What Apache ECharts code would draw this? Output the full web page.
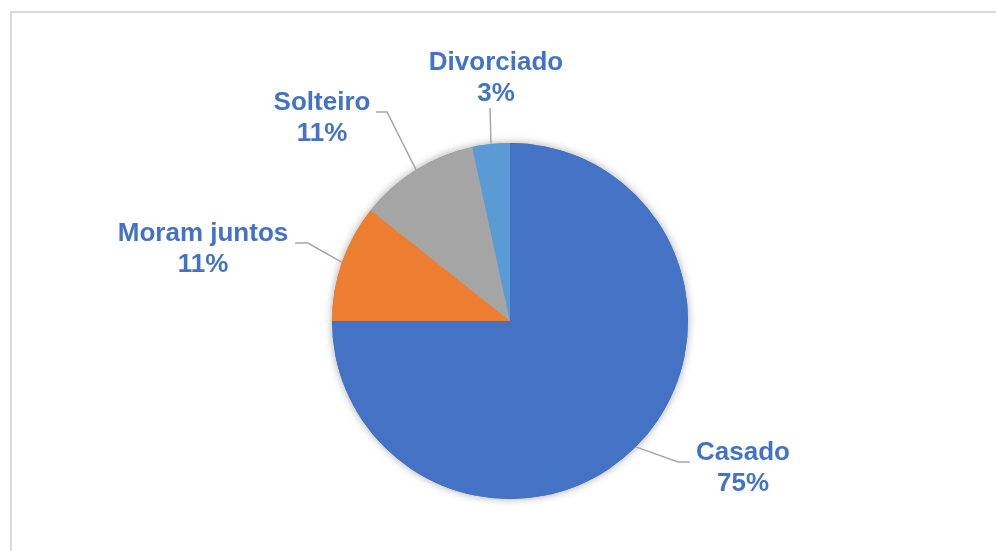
<!DOCTYPE html>
<html>
<head>
<meta charset="utf-8">
<script src="https://cdn.jsdelivr.net/npm/echarts@6/dist/echarts.min.js"></script>
<style>
  html, body { margin: 0; padding: 0; background: #fff; }
  #main { width: 996px; height: 551px; }
</style>
</head>
<body>
<div id="main"></div>
<script>
  // dados (estado civil)
  var categorias = ['Casado', 'Moram juntos', 'Solteiro', 'Divorciado'];
  var valores = [75.0, 10.7, 10.9, 3.4];
  var cores = ['#4472C4', '#ED7D31', '#A5A5A5', '#5B9BD5'];

  // posição dos rótulos (centro) e pontos da linha guia relativos ao centro
  var rotulos = [
    { x: 743, y: 468, linha: [[-65, -6], [-53, -6]] },
    { x: 203, y: 249, linha: [[105, -6], [92, -6]] },
    { x: 322, y: 118, linha: [[65, -6], [54, -6]] },
    { x: 496, y: 78, linha: [[-6, 30], [-6, 30]] }
  ];

  var dados = categorias.map(function (nome, i) {
    return { name: nome, value: valores[i], itemStyle: { color: cores[i] } };
  });

  var chart = echarts.init(document.getElementById('main'));
  var option = {
    animation: false,
    graphic: [{
      type: 'rect',
      shape: { x: 11, y: 12, width: 1000, height: 600 },
      style: { fill: 'none', stroke: '#d9d9d9', lineWidth: 2 },
      silent: true
    }],
    series: [
      {
        // sombra suave por baixo
        type: 'pie',
        silent: true,
        center: [510, 321],
        radius: 178,
        startAngle: 90,
        clockwise: true,
        data: dados,
        label: { show: false },
        labelLine: { show: false },
        itemStyle: { shadowBlur: 8, shadowColor: 'rgba(0,0,0,0.35)' },
        z: 1
      },
      {
        type: 'pie',
        center: [510, 321],
        radius: 178,
        startAngle: 90,
        clockwise: true,
        percentPrecision: 0,
        data: dados,
        z: 2,
        label: {
          show: true,
          position: 'outside',
          formatter: '{b}\n{d}%',
          color: '#4472C4',
          fontFamily: 'Liberation Sans, Arial, sans-serif',
          fontWeight: 'bold',
          fontSize: 26,
          lineHeight: 31,
          align: 'center'
        },
        labelLine: {
          show: true,
          length: 30,
          length2: 10,
          lineStyle: { color: '#a6a6a6', width: 1.5 }
        },
        labelLayout: function (params) {
          var r = rotulos[params.dataIndex];
          var p0 = params.labelLinePoints ? params.labelLinePoints[0] : [r.x, r.y];
          return {
            x: r.x,
            y: r.y,
            align: 'center',
            verticalAlign: 'middle',
            labelLinePoints: [
              p0,
              [r.x + r.linha[0][0], r.y + r.linha[0][1]],
              [r.x + r.linha[1][0], r.y + r.linha[1][1]]
            ]
          };
        }
      }
    ]
  };
  chart.setOption(option);
</script>
</body>
</html>
